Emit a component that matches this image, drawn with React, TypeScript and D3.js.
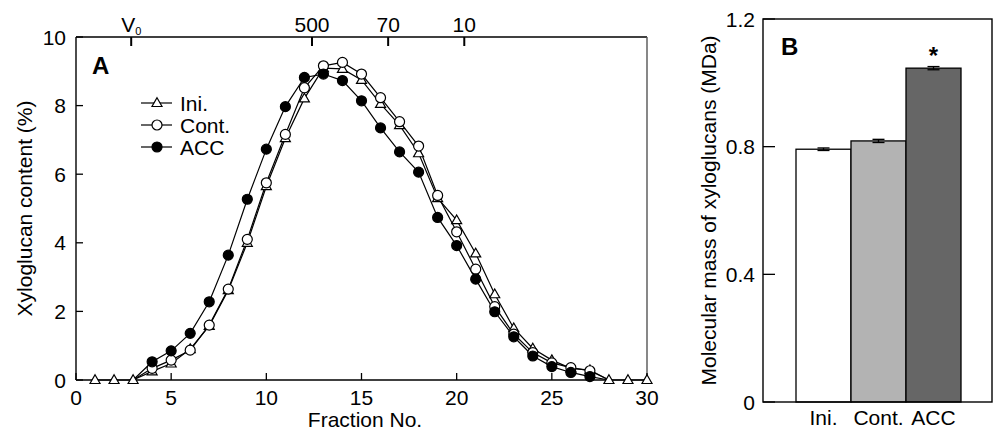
import React from "react";
import * as d3 from "d3";

const fractions = d3.range(1, 31);
const iniValues = [0, 0, 0, 0.25, 0.48, 0.9, 1.58, 2.62, 4.0, 5.65, 7.05, 8.21, 9.09, 9.07, 8.75, 8.05, 7.43, 6.61, 5.3, 4.66, 3.69, 2.5, 1.51, 0.92, 0.58, 0.34, 0.29, 0, 0, 0];
const contFractions = d3.range(3, 29);
const contValues = [0, 0.34, 0.58, 0.87, 1.6, 2.65, 4.1, 5.75, 7.16, 8.52, 9.16, 9.26, 8.92, 8.23, 7.53, 6.82, 5.38, 4.32, 3.23, 2.14, 1.34, 0.8, 0.5, 0.36, 0.27, 0];
const accValues = [0, 0.53, 0.85, 1.36, 2.28, 3.64, 5.27, 6.73, 7.97, 8.82, 8.92, 8.73, 8.14, 7.35, 6.65, 6.06, 4.74, 3.92, 2.94, 1.99, 1.26, 0.7, 0.39, 0.22, 0.1, 0];

const xTicks = [0, 5, 10, 15, 20, 25, 30];
const yTicks = [0, 2, 4, 6, 8, 10];
const topTickPos = [2.9, 12.4, 16.4, 20.4];
const topTickLabels = ["V", "500", "70", "10"];

const barCategories = ["Ini.", "Cont.", "ACC"];
const barValues = [0.792, 0.818, 1.046];
const barErrors = [0.004, 0.005, 0.005];
const barColors = ["#ffffff", "#b3b3b3", "#666666"];
const barYTicks = [0, 0.4, 0.8, 1.2];

const FONT = "'Liberation Sans', Arial, Helvetica, sans-serif";
const FS = 21;

export default function App() {
  const x = d3.scaleLinear().domain([0, 30]).range([76, 647]);
  const y = d3.scaleLinear().domain([0, 10]).range([380, 37]);

  const xb = d3.scaleBand().domain(barCategories).range([796, 961]).padding(0);
  const yb = d3.scaleLinear().domain([0, 1.2]).range([402, 19]);

  const line = d3
    .line<[number, number]>()
    .x((d) => x(d[0]))
    .y((d) => y(d[1]));

  const iniPts: [number, number][] = fractions.map((f, i) => [f, iniValues[i]]);
  const contPts: [number, number][] = contFractions.map((f, i) => [f, contValues[i]]);
  const accPts: [number, number][] = contFractions.map((f, i) => [f, accValues[i]]);

  const tri = (cx: number, cy: number, s = 10) => {
    const h = s * 0.87;
    return `M${cx},${cy - h * 0.6}L${cx + s / 2},${cy + h * 0.4}L${cx - s / 2},${cy + h * 0.4}Z`;
  };

  const hasMarker = (f: number) => f >= 4 && f <= 27;

  const legend = [
    { label: "Ini.", type: "tri" },
    { label: "Cont.", type: "open" },
    { label: "ACC", type: "filled" },
  ];

  return (
    <div style={{ position: "absolute", left: 0, top: 0 }}>
      <svg width={993} height={432} style={{ display: "block", fontFamily: FONT }}>
        <rect width={993} height={432} fill="#fff" />
        {/* Panel A frame */}
        <line x1={x(0)} x2={x(30)} y1={y(10)} y2={y(10)} stroke="#000" strokeWidth={1.4} />
        <line x1={x(0)} x2={x(30)} y1={y(0)} y2={y(0)} stroke="#000" strokeWidth={1.4} />
        <line x1={x(0)} x2={x(0)} y1={y(0)} y2={y(10)} stroke="#000" strokeWidth={1.4} />
        <line x1={x(30)} x2={x(30)} y1={y(0)} y2={y(10)} stroke="#555" strokeWidth={1.4} />

        {/* x ticks */}
        {xTicks.map((t) => (
          <g key={"xt" + t}>
            <line x1={x(t)} x2={x(t)} y1={y(0)} y2={y(0) - 7} stroke="#000" strokeWidth={1.3} />
            <text x={x(t)} y={405} textAnchor="middle" fontSize={FS}>
              {t}
            </text>
          </g>
        ))}
        {/* y ticks */}
        {yTicks.map((t) => (
          <g key={"yt" + t}>
            <line x1={x(0)} x2={x(0) + 7} y1={y(t)} y2={y(t)} stroke="#000" strokeWidth={1.3} />
            <text x={66} y={y(t) + 7.5} textAnchor="end" fontSize={FS}>
              {t}
            </text>
          </g>
        ))}
        {/* top ticks */}
        {topTickPos.map((t, i) => (
          <g key={"tt" + i}>
            <line x1={x(t)} x2={x(t)} y1={y(10)} y2={y(10) + 9} stroke="#000" strokeWidth={2} />
            <text x={x(t)} y={32} textAnchor="middle" fontSize={FS}>
              {topTickLabels[i]}
              {i === 0 ? <tspan fontSize={11} dy={3}>0</tspan> : null}
            </text>
          </g>
        ))}

        <text x={92} y={74} fontSize={24} fontWeight="bold">A</text>
        <text x={365} y={427} textAnchor="middle" fontSize={FS}>Fraction No.</text>
        <text transform={`translate(32,${y(5)}) rotate(-90)`} textAnchor="middle" fontSize={FS}>
          Xyloglucan content (%)
        </text>

        {/* Lines */}
        <path d={line(iniPts) || ""} fill="none" stroke="#000" strokeWidth={1.2} />
        <path d={line(contPts) || ""} fill="none" stroke="#000" strokeWidth={1.2} />
        <path d={line(accPts) || ""} fill="none" stroke="#000" strokeWidth={1.2} />

        {/* markers: Ini, Cont, ACC */}
        {iniPts.map(([f, v]) => (
          <path key={"i" + f} d={tri(x(f), y(v))} fill="#fff" stroke="#000" strokeWidth={1.2} />
        ))}
        {contPts.filter((p) => hasMarker(p[0])).map(([f, v]) => (
          <circle key={"c" + f} cx={x(f)} cy={y(v)} r={5} fill="#fff" stroke="#000" strokeWidth={1.2} />
        ))}
        {accPts.filter((p) => hasMarker(p[0])).map(([f, v]) => (
          <circle key={"a" + f} cx={x(f)} cy={y(v)} r={5} fill="#000" stroke="#000" strokeWidth={1.2} />
        ))}

        {/* legend */}
        {legend.map((l, i) => {
          const ly = 103 + i * 22;
          return (
            <g key={l.label}>
              <line x1={141} x2={172} y1={ly} y2={ly} stroke="#000" strokeWidth={1.2} />
              {l.type === "tri" ? (
                <path d={tri(157, ly)} fill="#fff" stroke="#000" strokeWidth={1.2} />
              ) : (
                <circle cx={157} cy={ly} r={5} fill={l.type === "open" ? "#fff" : "#000"} stroke="#000" strokeWidth={1.2} />
              )}
              <text x={180} y={ly + 7.5} fontSize={FS}>{l.label}</text>
            </g>
          );
        })}

        {/* Panel B */}
        {barCategories.map((c, i) => (
          <g key={c}>
            <rect
              x={xb(c)}
              y={yb(barValues[i])}
              width={xb.bandwidth()}
              height={yb(0) - yb(barValues[i])}
              fill={barColors[i]}
              stroke="#000"
              strokeWidth={1.3}
            />
            <line
              x1={(xb(c) || 0) + xb.bandwidth() / 2}
              x2={(xb(c) || 0) + xb.bandwidth() / 2}
              y1={yb(barValues[i] + barErrors[i])}
              y2={yb(barValues[i] - barErrors[i])}
              stroke="#000"
              strokeWidth={1.3}
            />
            {[1, -1].map((s) => (
              <line
                key={s}
                x1={(xb(c) || 0) + xb.bandwidth() / 2 - 6}
                x2={(xb(c) || 0) + xb.bandwidth() / 2 + 6}
                y1={yb(barValues[i] + s * barErrors[i])}
                y2={yb(barValues[i] + s * barErrors[i])}
                stroke="#000"
                strokeWidth={1.3}
              />
            ))}
            <text x={(xb(c) || 0) + xb.bandwidth() / 2} y={425} textAnchor="middle" fontSize={FS}>
              {c}
            </text>
          </g>
        ))}
        <rect x={763} y={yb(1.2)} width={229} height={yb(0) - yb(1.2)} fill="none" stroke="#000" strokeWidth={1.4} />
        {barYTicks.map((t) => (
          <g key={"by" + t}>
            <line x1={763} x2={775} y1={yb(t)} y2={yb(t)} stroke="#000" strokeWidth={1.3} />
            <text x={755} y={yb(t) + 7.5} textAnchor="end" fontSize={FS}>
              {t === 0 ? "0" : t.toFixed(1)}
            </text>
          </g>
        ))}
        <text x={781} y={55} fontSize={24} fontWeight="bold">B</text>
        <text
          x={(xb("ACC") || 0) + xb.bandwidth() / 2}
          y={yb(barValues[2] + barErrors[2]) - 3}
          textAnchor="middle"
          fontSize={24}
          fontWeight="bold"
        >
          *
        </text>
        <text transform={`translate(716,${yb(0.6)}) rotate(-90)`} textAnchor="middle" fontSize={FS}>
          Molecular mass of xyloglucans (MDa)
        </text>
      </svg>
    </div>
  );
}
